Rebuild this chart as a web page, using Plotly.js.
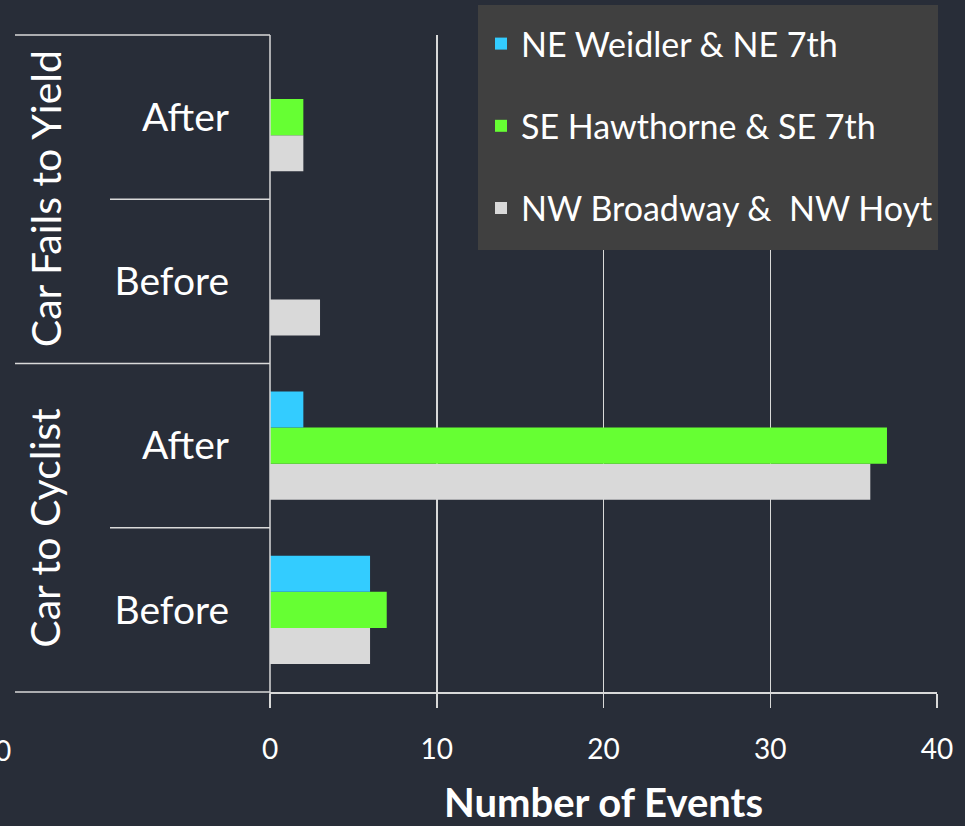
<!DOCTYPE html>
<html>
<head>
<meta charset="utf-8">
<script src="https://cdn.plot.ly/plotly-3.0.1.min.js"></script>
<style>html,body{margin:0;padding:0;background:#282d38;}</style>
</head>
<body>
<div id="chart" style="width:965px;height:826px;"></div>
<script>
// Data
var outerCategories = ["Car to Cyclist", "Car to Cyclist", "Car Fails to Yield", "Car Fails to Yield"];
var innerCategories = ["Before", "After", "Before", "After"];
var weidler = [6, 2, 0, 0];
var hawthorne = [7, 37, 0, 2];
var broadway = [6, 36, 3, 2];
var seriesNames = ["NE Weidler & NE 7th", "SE Hawthorne & SE 7th", "NW Broadway &  NW Hoyt"];
var xTickValues = [0, 10, 20, 30, 40];

var keys = outerCategories.map(function (o, i) { return o + " | " + innerCategories[i]; });

function trace(name, vals, color, group, rank) {
  return {
    type: "bar", orientation: "h", name: name, x: vals, y: keys,
    marker: { color: color }, legendgroup: group, legendrank: rank
  };
}

var data = [
  trace(seriesNames[2], broadway, "#d9d9d9", "c", 3),
  trace(seriesNames[1], hawthorne, "#66ff33", "b", 2),
  trace(seriesNames[0], weidler, "#33ccff", "a", 1)
];

var lineColor = "#d9d9d9";
var px = function (p) { return (p - 270) / 667; };
var py = function (p) { return (692 - p) / 657; };

var shapes = [
  { type: "line", xref: "paper", yref: "paper", x0: px(15), x1: 0, y0: 1, y1: 1, line: { color: lineColor, width: 1.5 } },
  { type: "line", xref: "paper", yref: "paper", x0: px(110), x1: 0, y0: 0.75, y1: 0.75, line: { color: lineColor, width: 1.5 } },
  { type: "line", xref: "paper", yref: "paper", x0: px(15), x1: 0, y0: 0.5, y1: 0.5, line: { color: lineColor, width: 1.5 } },
  { type: "line", xref: "paper", yref: "paper", x0: px(110), x1: 0, y0: 0.25, y1: 0.25, line: { color: lineColor, width: 1.5 } },
  { type: "line", xref: "paper", yref: "paper", x0: px(15), x1: 0, y0: 0, y1: 0, line: { color: lineColor, width: 1.5 } },
  { type: "line", xref: "paper", yref: "paper", x0: 0, x1: 0, y0: py(706), y1: 1, line: { color: lineColor, width: 1.5 } },
  // legend background box
  { type: "rect", xref: "paper", yref: "paper", x0: px(478), x1: px(938), y0: py(250), y1: py(5), fillcolor: "#404040", line: { width: 0 }, layer: "above" }
];

var font = "Lato, 'Open Sans', sans-serif";

var layout = {
  width: 965, height: 826,
  paper_bgcolor: "#282d38", plot_bgcolor: "#282d38",
  margin: { l: 270, r: 28, t: 35, b: 134 },
  barmode: "group", bargap: 0.34, bargroupgap: 0,
  font: { family: font, color: "#ffffff" },
  showlegend: true,
  legend: {
    x: px(481), xanchor: "left", y: py(15), yanchor: "top",
    bgcolor: "rgba(0,0,0,0)", borderwidth: 0,
    font: { family: font, size: 34, color: "#ffffff" },
    traceorder: "grouped", tracegroupgap: 35,
    itemwidth: 30
  },
  xaxis: {
    range: [0, 40], tickvals: xTickValues, ticktext: xTickValues.map(String),
    showgrid: true, gridcolor: lineColor, gridwidth: 1.5,
    zeroline: false, showline: true, linecolor: lineColor, linewidth: 1.5,
    ticks: "outside", ticklen: 14, tickcolor: lineColor, tickwidth: 1.5,
    ticklabelstandoff: 18,
    tickfont: { family: font, size: 28, color: "#ffffff" },
    title: { text: "<b>Number of Events</b>", font: { family: font, size: 40, color: "#ffffff" }, standoff: 26 },
    fixedrange: true
  },
  yaxis: {
    type: "category", categoryorder: "array", categoryarray: keys,
    tickvals: keys, ticktext: innerCategories,
    showgrid: false, zeroline: false, showline: false, ticks: "",
    ticklabelstandoff: 40,
    tickfont: { family: font, size: 39, color: "#ffffff" },
    fixedrange: true
  },
  shapes: shapes,
  annotations: [
    { xref: "paper", yref: "paper", x: px(45), y: 0.75, text: "Car Fails to Yield", textangle: -90, showarrow: false, xanchor: "center", yanchor: "middle", font: { family: font, size: 41, color: "#ffffff" } },
    { xref: "paper", yref: "paper", x: px(45), y: 0.25, text: "Car to Cyclist", textangle: -90, showarrow: false, xanchor: "center", yanchor: "middle", font: { family: font, size: 41, color: "#ffffff" } },
    { xref: "paper", yref: "paper", x: px(3), y: py(750), text: "0", showarrow: false, xanchor: "center", yanchor: "middle", font: { family: font, size: 28, color: "#ffffff" } }
  ]
};

Plotly.newPlot("chart", data, layout, { displayModeBar: false, staticPlot: true });
</script>
</body>
</html>
